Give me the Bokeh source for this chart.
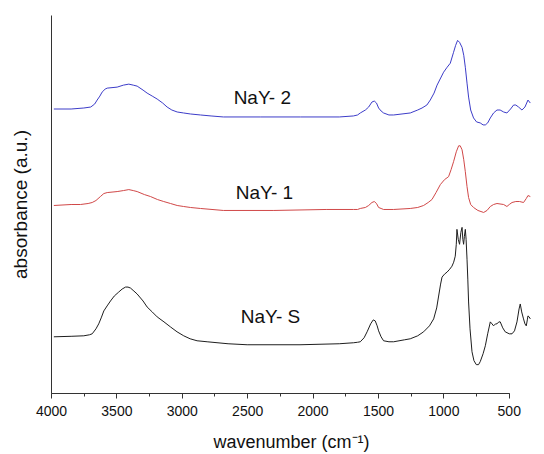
from bokeh.plotting import figure
from bokeh.models import Range1d, SingleIntervalTicker, FixedTicker, ColumnDataSource
from bokeh.core.properties import value
from bokeh.embed import file_html
from bokeh.resources import INLINE

# ---- data (wavenumber in cm^-1, absorbance in a.u., offset traces) ----
wn_y2 = [3982, 3850, 3753, 3700, 3670, 3651, 3630, 3613, 3590, 3574, 3498, 3450, 3409, 3375,
         3345, 3300, 3269, 3230, 3192, 3150, 3116, 3080, 3039, 2990, 2938, 2861, 2780, 2686,
         2400, 2097, 1800, 1692, 1660, 1639, 1600, 1575, 1550, 1532, 1515, 1499, 1480, 1461,
         1420, 1384, 1257, 1200, 1167, 1130, 1104, 1075, 1052, 1002, 975, 951, 926, 910, 895,
         880, 861, 848, 836, 823, 811, 795, 773, 750, 722, 700, 683, 665, 645, 620, 594, 570,
         543, 518, 490, 467, 450, 429, 403, 380, 357, 339]
abs_y2 = [2.86, 2.86, 2.87, 2.88, 2.91, 2.95, 2.99, 3.03, 3.06, 3.07, 3.08, 3.10, 3.11, 3.10,
          3.09, 3.05, 3.02, 2.99, 2.96, 2.92, 2.88, 2.85, 2.83, 2.82, 2.81, 2.80, 2.79, 2.78,
          2.78, 2.78, 2.78, 2.79, 2.80, 2.82, 2.85, 2.88, 2.93, 2.94, 2.92, 2.87, 2.84, 2.82,
          2.80, 2.80, 2.82, 2.85, 2.87, 2.90, 2.95, 3.02, 3.10, 3.23, 3.28, 3.32, 3.43, 3.50, 3.55,
          3.53, 3.48, 3.40, 3.28, 3.12, 2.98, 2.85, 2.77, 2.73, 2.72, 2.70, 2.70, 2.72, 2.77, 2.82,
          2.85, 2.85, 2.83, 2.82, 2.86, 2.90, 2.90, 2.88, 2.85, 2.88, 2.95, 2.92]

wn_y1 = [3982, 3850, 3778, 3720, 3689, 3660, 3626, 3600, 3574, 3498, 3450, 3409, 3375, 3345,
         3290, 3243, 3190, 3142, 3090, 3039, 2990, 2938, 2861, 2686, 2300, 1900, 1692, 1660,
         1639, 1600, 1575, 1550, 1532, 1515, 1499, 1480, 1461, 1384, 1257, 1200, 1155, 1120,
         1091, 1060, 1027, 995, 964, 945, 926, 905, 887, 875, 861, 848, 836, 823, 811, 795, 773,
         740, 696, 670, 645, 620, 594, 543, 518, 500, 479, 450, 421, 391, 370, 357, 339]
abs_y1 = [1.89, 1.90, 1.90, 1.91, 1.92, 1.94, 1.98, 2.01, 2.02, 2.03, 2.04, 2.05, 2.04, 2.03,
          2.00, 1.98, 1.95, 1.93, 1.91, 1.89, 1.88, 1.87, 1.86, 1.84, 1.84, 1.85, 1.85, 1.85,
          1.86, 1.87, 1.89, 1.92, 1.93, 1.91, 1.87, 1.86, 1.85, 1.85, 1.86, 1.87, 1.89, 1.92,
          1.95, 2.02, 2.10, 2.15, 2.18, 2.25, 2.33, 2.43, 2.49, 2.49, 2.45, 2.35, 2.23, 2.08,
          1.97, 1.90, 1.87, 1.84, 1.82, 1.84, 1.88, 1.90, 1.91, 1.90, 1.88, 1.90, 1.92, 1.93,
          1.93, 1.92, 1.96, 1.99, 1.98]

wn_ys = [3982, 3850, 3753, 3710, 3689, 3660, 3639, 3620, 3600, 3575, 3549, 3520, 3486, 3460,
         3434, 3415, 3396, 3370, 3345, 3300, 3269, 3230, 3192, 3140, 3091, 3040, 2989, 2940,
         2887, 2810, 2650, 2504, 2100, 1800, 1692, 1660, 1639, 1610, 1587, 1560, 1540, 1525,
         1510, 1499, 1480, 1461, 1420, 1384, 1300, 1257, 1200, 1155, 1110, 1078, 1055, 1040,
         1025, 1014, 995, 976, 955, 938, 925, 913, 905, 900, 890, 880, 870, 861, 855, 849, 843,
         836, 830, 823, 817, 811, 800, 785, 770, 752, 735, 722, 700, 683, 665, 645, 632, 620,
         605, 594, 580, 569, 550, 531, 500, 479, 460, 441, 425, 416, 405, 391, 380, 370, 362,
         357, 348, 339]
abs_ys = [0.57, 0.575, 0.58, 0.59, 0.60, 0.65, 0.70, 0.76, 0.83, 0.88, 0.93, 0.98, 1.02, 1.05,
          1.07, 1.07, 1.06, 1.03, 1.00, 0.93, 0.87, 0.82, 0.77, 0.72, 0.67, 0.62, 0.58, 0.55,
          0.53, 0.52, 0.50, 0.49, 0.49, 0.50, 0.51, 0.515, 0.52, 0.56, 0.62, 0.70, 0.74, 0.73,
          0.68, 0.63, 0.57, 0.53, 0.52, 0.52, 0.54, 0.55, 0.58, 0.62, 0.68, 0.75, 0.86, 0.98,
          1.10, 1.17, 1.20, 1.22, 1.25, 1.28, 1.32, 1.38, 1.50, 1.65, 1.55, 1.50, 1.62, 1.67,
          1.55, 1.50, 1.58, 1.65, 1.55, 1.35, 1.15, 0.92, 0.65, 0.42, 0.33, 0.29, 0.29, 0.32,
          0.40, 0.48, 0.60, 0.72, 0.70, 0.68, 0.70, 0.70, 0.72, 0.72, 0.66, 0.62, 0.60, 0.60,
          0.63, 0.72, 0.85, 0.90, 0.82, 0.75, 0.70, 0.68, 0.74, 0.78, 0.77, 0.75]

series_names = ["NaY- 2", "NaY- 1", "NaY- S"]
series_colors = ["#3c3cc8", "#d04848", "#1e1e1e"]
label_wn = [2388, 2372, 2326]
label_abs = [2.98, 2.02, 0.77]

FONT = "Liberation Sans"

p = figure(width=544, height=454, output_backend="svg", toolbar_location=None,
           x_range=Range1d(4000, 330), y_range=Range1d(0, 3.8),
           min_border_left=51, min_border_right=13, min_border_top=15, min_border_bottom=59)
p.outline_line_color = None
p.xgrid.visible = False
p.ygrid.visible = False

for wn, ab, col in zip([wn_y2, wn_y1, wn_ys], [abs_y2, abs_y1, abs_ys], series_colors):
    p.line(wn, ab, line_color=col, line_width=1, line_join="round")

src = ColumnDataSource(dict(x=label_wn, y=label_abs, t=series_names))
p.text(x="x", y="y", text="t", source=src, text_align="center", text_baseline="middle",
       text_font=value(FONT), text_font_size="19px", text_color="#111111")

xa = p.xaxis[0]
xa.ticker = SingleIntervalTicker(interval=500, num_minor_ticks=2)
xa.bounds = (500, 4000)
xa.major_tick_in = 0
xa.major_tick_out = 5
xa.minor_tick_in = 0
xa.minor_tick_out = 3
xa.major_label_standoff = 7
xa.major_label_text_font = FONT
xa.major_label_text_font_size = "14px"
xa.major_label_text_color = "#111111"
xa.axis_label = "wavenumber (cm\u207b\u00b9)"
xa.axis_label_text_font = FONT
xa.axis_label_text_font_size = "18px"
xa.axis_label_text_font_style = "normal"
xa.axis_label_text_color = "#111111"
xa.axis_label_standoff = 13
xa.axis_line_color = "#333333"
xa.major_tick_line_color = "#333333"
xa.minor_tick_line_color = "#333333"

ya = p.yaxis[0]
ya.ticker = FixedTicker(ticks=[])
ya.axis_label = "absorbance (a.u.)"
ya.axis_label_text_font = FONT
ya.axis_label_text_font_size = "19px"
ya.axis_label_text_font_style = "normal"
ya.axis_label_text_color = "#111111"
ya.axis_label_standoff = 21
ya.axis_line_color = "#333333"

open("out.html", "w").write(file_html(p, INLINE))
